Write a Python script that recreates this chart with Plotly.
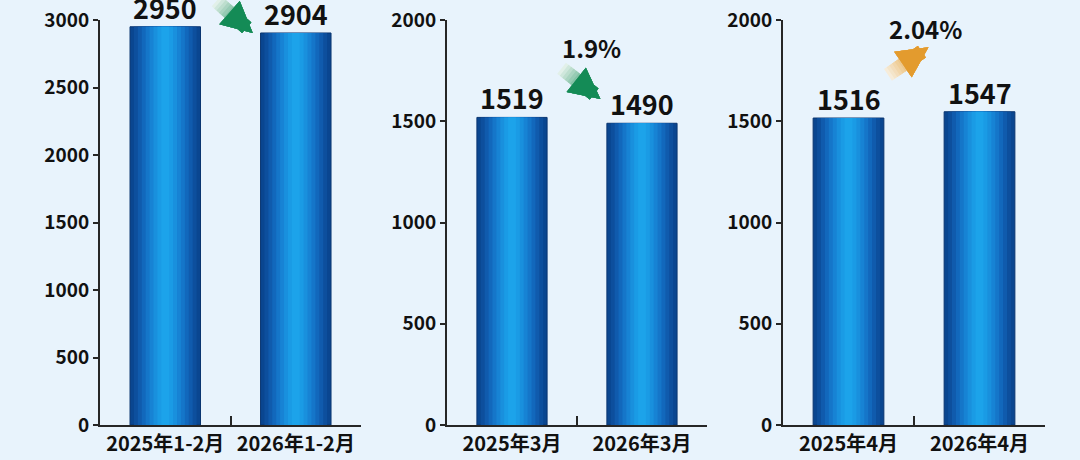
import plotly.graph_objects as go
from plotly.subplots import make_subplots

# data
periods = [["2025年1-2月", "2026年1-2月"],
           ["2025年3月", "2026年3月"],
           ["2025年4月", "2026年4月"]]
values = [[2950, 2904], [1519, 1490], [1516, 1547]]
changes = ["", "1.9%", "2.04%"]
directions = ["down", "down", "up"]
y_max = [3000, 2000, 2000]

FONT = "Noto Sans CJK SC"
BG = "#e8f3fc"
AXIS = "#262626"
# bar shading, edge -> centre
shades = ["#0a4690", "#0d4f9d", "#105bad", "#1268bc", "#1576c9", "#1783d4",
          "#1990dd", "#1a9be5", "#1ca3ea"]
BAR_W = 0.54
domains = [(0.0926, 0.3343), (0.4139, 0.6546), (0.7250, 0.9676)]

# arrow geometry in axis units (tail x, tail y frac of range, head x, head y frac)
arrows = [(0.38, 1.05, 0.67, 0.968), (0.37, 0.884, 0.68, 0.805), (0.29, 0.862, 0.61, 0.933)]
pct_pos = [(0.62, 1.12), (0.615, 0.933), (0.59, 0.978)]
arrow_ends = {"down": ((226, 240, 233), (20, 139, 86)),
              "up": ((246, 236, 218), (227, 155, 46))}
n_steps = 12


def hex_axis(i, kind):
    return kind if i == 0 else "%s%d" % (kind, i + 1)


fig = make_subplots(rows=1, cols=3)

for i in range(3):
    col = i + 1
    n = len(shades)
    for k, c in enumerate(shades):
        w = BAR_W * (1 - k / n)
        fig.add_trace(go.Bar(
            x=periods[i], y=values[i], width=w,
            marker=dict(color=c, line=dict(color="#0a3570", width=1 if k == 0 else 0)),
            showlegend=False, hoverinfo="skip",
        ), row=1, col=col)

    xr = hex_axis(i, "x")
    yr = hex_axis(i, "y")
    # value labels sitting just above each bar
    for cat, v in zip(periods[i], values[i]):
        fig.add_annotation(x=cat, y=v, xref=xr, yref=yr, text=str(v), showarrow=False,
                           yanchor="middle", yshift=20, height=24, borderpad=0,
                           font=dict(family=FONT, size=27, color="#111111", weight=700))

    fig.layout[hex_axis(i, "xaxis")].update(
        domain=list(domains[i]), range=[-0.5, 1.5], showline=True, linecolor=AXIS, linewidth=2,
        ticks="inside", tickson="boundaries", ticklen=9, tickwidth=2, tickcolor=AXIS,
        showgrid=False, zeroline=False, automargin=False,
        tickfont=dict(family=FONT, size=20, color="#111111", weight=700))
    fig.layout[hex_axis(i, "yaxis")].update(
        domain=[0.0761, 0.9565], range=[0, y_max[i]], dtick=500, showline=True, linecolor=AXIS,
        linewidth=2, ticks="outside", ticklen=5, tickwidth=2, tickcolor=AXIS,
        showgrid=False, zeroline=False, automargin=False,
        tickfont=dict(family=FONT, size=19, color="#111111", weight=700))

    # fading arrow: stacked arrows, shorter ones in stronger colour
    tx, ty, hx, hy = arrows[i]
    pale, full = arrow_ends[directions[i]]
    for s in range(n_steps):
        t = s / (n_steps - 1)
        frac = 1.0 - 0.7 * t
        rgb = tuple(int(round(p + (f - p) * t)) for p, f in zip(pale, full))
        fig.add_annotation(
            x=hx, y=hy * y_max[i], xref=xr, yref=yr,
            ax=hx + (tx - hx) * frac, ay=(hy + (ty - hy) * frac) * y_max[i], axref=xr, ayref=yr,
            text="", showarrow=True, arrowhead=2, arrowsize=0.44, arrowwidth=14,
            arrowcolor="rgb(%d,%d,%d)" % rgb)
    if changes[i]:
        fig.add_annotation(
            x=pct_pos[i][0], y=pct_pos[i][1] * y_max[i], xref=xr, yref=yr,
            text=changes[i], showarrow=False,
            font=dict(family=FONT, size=24, color="#111111", weight=700))

fig.update_layout(
    width=1080, height=460, autosize=False, barmode="overlay",
    margin=dict(l=0, r=0, t=0, b=0),
    paper_bgcolor=BG, plot_bgcolor=BG,
)

fig.write_html("out.html", config={"displayModeBar": False},
               post_script="document.body.style.margin='0';")
